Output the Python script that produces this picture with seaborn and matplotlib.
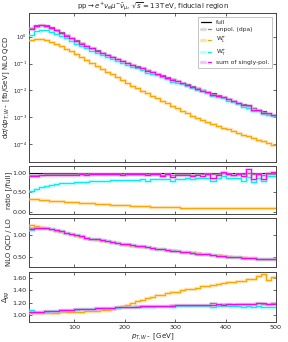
import numpy as np
import pandas as pd
import matplotlib
matplotlib.use("Agg")
import matplotlib.pyplot as plt
import seaborn as sns
from matplotlib.ticker import LogLocator, FixedLocator, FormatStrFormatter, NullLocator
from matplotlib.lines import Line2D
from matplotlib.legend_handler import HandlerTuple

# ---------------- data ----------------
edges = list(range(10, 510, 10))  # bin edges in GeV (49 bins)

full_top = [2.14, 2.69, 2.82, 2.63, 2.24, 1.82, 1.45, 1.15, 0.912, 0.724,
            0.575, 0.468, 0.380, 0.309, 0.251, 0.209, 0.174, 0.148, 0.126, 0.107,
            0.0917, 0.0785, 0.0671, 0.0575, 0.0492, 0.0421, 0.0362, 0.0306, 0.0265, 0.0225,
            0.0194, 0.01650, 0.01420, 0.01205, 0.01045, 0.00885, 0.00765, 0.00648, 0.00560, 0.00472,
            0.00410, 0.00346, 0.00302, 0.00253, 0.00221, 0.00185, 0.00162, 0.00135, 0.00118]
wl_top = [0.724, 0.841, 0.822, 0.733, 0.631, 0.537, 0.437, 0.355, 0.282, 0.229,
          0.178, 0.138, 0.107, 0.0832, 0.0646, 0.0501, 0.0389, 0.0309, 0.0240, 0.0191,
          0.0151, 0.0120, 0.00955, 0.00776, 0.00617, 0.00501, 0.00398, 0.00324, 0.00257, 0.00209,
          0.00170, 0.00138, 0.00112, 0.000933, 0.000776, 0.000646, 0.000550, 0.000468, 0.000407, 0.000355,
          0.000302, 0.000257, 0.000219, 0.000191, 0.000162, 0.000141, 0.000123, 0.000107, 0.0000933]

r_unpol = [0.95, 0.96, 0.965, 0.97, 0.97, 0.975, 0.975, 0.98, 0.98, 0.98,
           0.98, 0.98, 0.982, 0.98, 0.978, 0.982, 0.98, 0.98, 0.978, 0.982,
           0.98, 0.975, 0.98, 0.985, 0.97, 0.98, 0.95, 0.98, 0.96, 0.975,
           0.98, 0.97, 0.95, 0.975, 0.98, 0.99, 0.99, 0.975, 1.02, 0.98,
           0.96, 0.975, 0.97, 1.0, 0.98, 0.975, 0.96, 0.98, 0.99]
r_L = [0.33, 0.32, 0.31, 0.30, 0.29, 0.28, 0.27, 0.26, 0.25, 0.24,
       0.232, 0.224, 0.216, 0.208, 0.200, 0.192, 0.185, 0.178, 0.171, 0.164,
       0.158, 0.152, 0.146, 0.140, 0.135, 0.130, 0.125, 0.120, 0.116, 0.112,
       0.109, 0.106, 0.103, 0.101, 0.099, 0.098, 0.097, 0.096, 0.095, 0.094,
       0.093, 0.093, 0.092, 0.091, 0.090, 0.090, 0.089, 0.090, 0.090]
r_T = [0.55, 0.60, 0.64, 0.67, 0.70, 0.72, 0.74, 0.75, 0.76, 0.77,
       0.78, 0.785, 0.79, 0.80, 0.805, 0.81, 0.815, 0.82, 0.82, 0.825,
       0.83, 0.835, 0.84, 0.80, 0.845, 0.85, 0.85, 0.855, 0.80, 0.86,
       0.86, 0.865, 0.86, 0.87, 0.87, 0.87, 0.79, 0.87, 0.92, 0.88,
       0.87, 0.88, 0.80, 0.90, 0.78, 0.88, 0.79, 0.92, 0.93]
r_sum = [0.92, 0.93, 0.945, 0.955, 0.96, 0.962, 0.965, 0.965, 0.965, 0.968,
         0.97, 0.968, 0.97, 0.972, 0.97, 0.972, 0.97, 0.972, 0.968, 0.97,
         0.972, 0.97, 0.972, 0.95, 0.97, 0.972, 0.93, 0.97, 0.91, 0.965,
         0.955, 0.965, 0.94, 0.965, 0.93, 0.97, 0.87, 0.955, 1.04, 0.975,
         0.95, 0.97, 0.93, 1.10, 0.84, 0.99, 0.84, 1.02, 1.03]

k_full = [1.15, 1.17, 1.17, 1.16, 1.14, 1.11, 1.08, 1.05, 1.02, 0.99,
          0.965, 0.94, 0.915, 0.895, 0.875, 0.855, 0.835, 0.815, 0.795, 0.78,
          0.765, 0.75, 0.735, 0.72, 0.70, 0.685, 0.67, 0.655, 0.64, 0.625,
          0.61, 0.595, 0.585, 0.57, 0.56, 0.55, 0.54, 0.525, 0.515, 0.50,
          0.495, 0.485, 0.475, 0.47, 0.46, 0.45, 0.44, 0.445, 0.44]
k_unpol = [1.16, 1.17, 1.17, 1.16, 1.14, 1.11, 1.08, 1.05, 1.02, 0.99,
           0.965, 0.94, 0.915, 0.895, 0.875, 0.855, 0.835, 0.815, 0.80, 0.78,
           0.765, 0.75, 0.735, 0.72, 0.705, 0.685, 0.67, 0.655, 0.645, 0.625,
           0.61, 0.60, 0.585, 0.575, 0.56, 0.55, 0.54, 0.53, 0.51, 0.50,
           0.495, 0.48, 0.475, 0.465, 0.46, 0.45, 0.435, 0.44, 0.435]
k_L = [1.22, 1.20, 1.18, 1.16, 1.13, 1.10, 1.07, 1.045, 1.015, 0.985,
       0.96, 0.935, 0.91, 0.89, 0.87, 0.85, 0.83, 0.81, 0.79, 0.77,
       0.755, 0.74, 0.725, 0.71, 0.695, 0.68, 0.665, 0.65, 0.64, 0.625,
       0.615, 0.605, 0.595, 0.58, 0.565, 0.555, 0.545, 0.53, 0.52, 0.505,
       0.495, 0.49, 0.48, 0.47, 0.46, 0.455, 0.44, 0.445, 0.435]
k_T = [1.12, 1.15, 1.16, 1.16, 1.14, 1.11, 1.08, 1.05, 1.02, 0.99,
       0.965, 0.94, 0.915, 0.895, 0.875, 0.855, 0.835, 0.815, 0.795, 0.78,
       0.765, 0.75, 0.735, 0.72, 0.70, 0.685, 0.67, 0.655, 0.64, 0.625,
       0.61, 0.595, 0.585, 0.57, 0.56, 0.55, 0.545, 0.525, 0.515, 0.50,
       0.495, 0.485, 0.475, 0.47, 0.46, 0.45, 0.445, 0.445, 0.44]
k_sum = [1.14, 1.165, 1.17, 1.16, 1.14, 1.11, 1.08, 1.05, 1.02, 0.99,
         0.965, 0.94, 0.915, 0.895, 0.875, 0.855, 0.835, 0.815, 0.795, 0.78,
         0.765, 0.75, 0.735, 0.72, 0.70, 0.685, 0.67, 0.655, 0.64, 0.625,
         0.61, 0.595, 0.585, 0.57, 0.56, 0.55, 0.54, 0.525, 0.515, 0.50,
         0.495, 0.485, 0.475, 0.475, 0.46, 0.455, 0.445, 0.45, 0.445]

d_full = [1.05, 1.05, 1.055, 1.06, 1.065, 1.07, 1.075, 1.08, 1.085, 1.09,
          1.095, 1.10, 1.105, 1.11, 1.115, 1.12, 1.12, 1.125, 1.13, 1.13,
          1.135, 1.135, 1.14, 1.14, 1.145, 1.145, 1.15, 1.15, 1.15, 1.155,
          1.155, 1.16, 1.16, 1.16, 1.165, 1.165, 1.17, 1.17, 1.17, 1.175,
          1.17, 1.175, 1.18, 1.175, 1.18, 1.19, 1.185, 1.18, 1.19]
d_unpol = [1.05, 1.05, 1.055, 1.06, 1.065, 1.07, 1.075, 1.08, 1.085, 1.09,
           1.095, 1.10, 1.105, 1.11, 1.115, 1.12, 1.12, 1.125, 1.13, 1.13,
           1.135, 1.14, 1.14, 1.14, 1.145, 1.15, 1.15, 1.15, 1.155, 1.155,
           1.16, 1.16, 1.16, 1.165, 1.165, 1.17, 1.19, 1.17, 1.175, 1.175,
           1.17, 1.18, 1.18, 1.175, 1.18, 1.19, 1.18, 1.18, 1.195]
d_L = [1.03, 1.03, 1.035, 1.035, 1.04, 1.04, 1.045, 1.045, 1.05, 1.05,
       1.055, 1.06, 1.065, 1.07, 1.075, 1.085, 1.10, 1.12, 1.14, 1.17,
       1.20, 1.23, 1.25, 1.28, 1.30, 1.32, 1.33, 1.35, 1.37, 1.38,
       1.40, 1.42, 1.43, 1.44, 1.47, 1.47, 1.49, 1.50, 1.52, 1.53,
       1.54, 1.55, 1.56, 1.58, 1.59, 1.63, 1.67, 1.57, 1.62]
d_T = [1.08, 1.05, 1.05, 1.055, 1.06, 1.065, 1.07, 1.075, 1.08, 1.085,
       1.09, 1.095, 1.10, 1.105, 1.11, 1.115, 1.115, 1.12, 1.125, 1.125,
       1.13, 1.13, 1.135, 1.13, 1.135, 1.14, 1.14, 1.14, 1.135, 1.14,
       1.14, 1.145, 1.14, 1.145, 1.14, 1.145, 1.13, 1.145, 1.15, 1.14,
       1.14, 1.145, 1.13, 1.15, 1.13, 1.14, 1.13, 1.13, 1.13]
d_sum = [1.05, 1.05, 1.055, 1.06, 1.065, 1.07, 1.075, 1.08, 1.085, 1.09,
         1.095, 1.10, 1.105, 1.11, 1.115, 1.12, 1.12, 1.125, 1.13, 1.13,
         1.135, 1.135, 1.14, 1.14, 1.145, 1.145, 1.15, 1.15, 1.15, 1.155,
         1.155, 1.16, 1.16, 1.165, 1.165, 1.17, 1.17, 1.175, 1.17, 1.175,
         1.18, 1.175, 1.18, 1.18, 1.185, 1.19, 1.2, 1.175, 1.18]

labels = ["full", "unpol. (dpa)", r"W$_\mathrm{L}^{+}$", r"W$_\mathrm{T}^{+}$", "sum of singly-pol."]

# ---------------- style ----------------
sns.set_style("ticks", {"xtick.direction": "in", "ytick.direction": "in"})
plt.rcParams['font.family'] = ['DejaVu Sans']
plt.rcParams['axes.edgecolor'] = '#444444'
plt.rcParams['axes.linewidth'] = 0.7
plt.rcParams['mathtext.fontset'] = 'dejavusans'

line_cols = ['#000000', '#808080', '#FFA500', '#00EEEE', '#FF00FF']
band_cols = [None, '#B0B0B0', '#FFC04D', '#66FFFF', '#EE82EE']

fig = plt.figure(figsize=(2.88, 3.42), dpi=100)
L, W = 29 / 288, 247 / 288
def ax_at(top, bot):
    return fig.add_axes([L, 1 - bot / 342, W, (bot - top) / 342])
ax0 = ax_at(13, 162)
ax1 = ax_at(166, 214)
ax2 = ax_at(218, 267)
ax3 = ax_at(272, 322)


def step(ax, vals, i):
    y = list(vals) + [vals[-1]]
    df = pd.DataFrame({"pT": edges, "v": y})
    if band_cols[i] is not None:
        sns.lineplot(data=df, x="pT", y="v", ax=ax, color=band_cols[i], lw=2.4, alpha=0.45,
                     drawstyle="steps-post", estimator=None, legend=False, zorder=2 + i)
    sns.lineplot(data=df, x="pT", y="v", ax=ax, color=line_cols[i], lw=0.8,
                 drawstyle="steps-post", estimator=None, legend=False, zorder=2.5 + i)


full = np.array(full_top)
top_series = [full, full * np.array(r_unpol), np.array(wl_top), full * np.array(r_T), full * np.array(r_sum)]
ratio_series = [full / full, np.array(r_unpol), np.array(r_L), np.array(r_T), np.array(r_sum)]
k_series = [k_full, k_unpol, k_L, k_T, k_sum]
d_series = [d_full, d_unpol, d_L, d_T, d_sum]

for i in range(5):
    step(ax0, top_series[i], i)
    step(ax1, ratio_series[i], i)
    step(ax2, k_series[i], i)
    step(ax3, d_series[i], i)

fs_tick = 4.6
fs_lab = 5.0
for ax in (ax0, ax1, ax2, ax3):
    ax.set_xlim(10, 500)
    ax.xaxis.set_major_locator(FixedLocator([100, 200, 300, 400, 500]))
    ax.tick_params(which='both', direction='in', top=True, right=True, labelsize=fs_tick,
                   length=2.5, width=0.5, pad=2)
    ax.set_xlabel("")
    ax.set_ylabel("")
    if ax is not ax3:
        ax.tick_params(labelbottom=False)

ax0.set_yscale('log')
ax0.set_ylim(2.1e-5, 7.7)
ax0.yaxis.set_major_locator(LogLocator(base=10, numticks=10))
ax0.yaxis.set_minor_locator(NullLocator())
ax0.tick_params(axis='y', labelsize=3.9, pad=1.5)

ax1.set_ylim(-0.06, 1.19)
ax1.yaxis.set_major_locator(FixedLocator([0.0, 0.5, 1.0]))
ax2.set_ylim(0.26, 1.39)
ax2.yaxis.set_major_locator(FixedLocator([0.5, 1.0]))
ax3.set_ylim(0.886, 1.70)
ax3.yaxis.set_major_locator(FixedLocator([1.0, 1.2, 1.4, 1.6]))
for ax in (ax1, ax2, ax3):
    ax.yaxis.set_major_formatter(FormatStrFormatter('%.2f'))

ax0.set_ylabel(r"d$\sigma$/d$p_{T,W^-}$ [fb/GeV] NLO QCD", fontsize=fs_lab)
ax1.set_ylabel("ratio [/full]", fontsize=fs_lab)
ax2.set_ylabel("NLO QCD / LO", fontsize=fs_lab)
ax3.set_ylabel(r"$\Delta_{gg}$", fontsize=fs_lab)
for ax in (ax0, ax1, ax2, ax3):
    ax.yaxis.set_label_coords(-0.068, 0.5)
ax3.set_xlabel(r"$p_{T,W^-}$ [GeV]", fontsize=fs_lab, labelpad=1.0)

ax0.set_title(r"$\mathrm{pp}\rightarrow e^{+}\nu_e\mu^{-}\bar{\nu}_\mu$, $\sqrt{s}=13\,$TeV, fiducial region",
              fontsize=5.0, pad=3)

handles = []
for i in range(5):
    thin = Line2D([], [], color=line_cols[i], lw=0.9)
    if band_cols[i] is None:
        handles.append(thin)
    else:
        wide = Line2D([], [], color=band_cols[i], lw=2.4, alpha=0.45)
        handles.append((wide, thin))
leg = ax0.legend(handles, labels, loc='upper right', fontsize=4.3, frameon=True,
                 handlelength=1.7, handletextpad=0.8, labelspacing=0.4, borderpad=0.5,
                 borderaxespad=0.6, fancybox=False,
                 handler_map={tuple: HandlerTuple(ndivide=None)})
leg.get_frame().set_edgecolor('#999999')
leg.get_frame().set_linewidth(0.5)

fig.savefig("out.png", dpi=100)
